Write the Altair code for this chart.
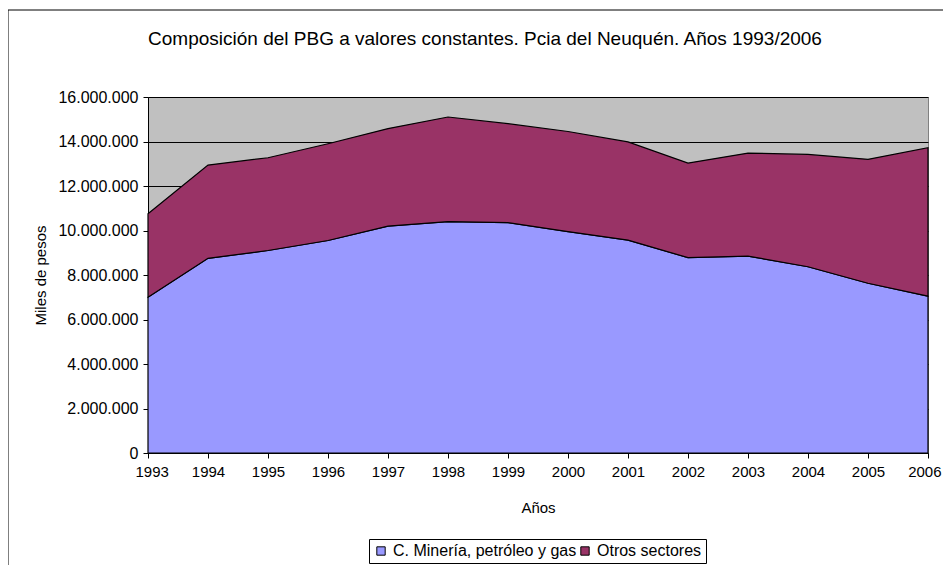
import altair as alt
import pandas as pd

years = [1993, 1994, 1995, 1996, 1997, 1998, 1999, 2000, 2001, 2002, 2003, 2004, 2005, 2006]
mineria = [7000000, 8750000, 9100000, 9550000, 10200000, 10400000, 10350000,
           9950000, 9570000, 8780000, 8850000, 8370000, 7630000, 7050000]
otros = [3750000, 4190000, 4170000, 4350000, 4380000, 4700000, 4450000,
         4500000, 4410000, 4250000, 4630000, 5050000, 5570000, 6670000]
series_names = ["C. Minería, petróleo y gas", "Otros sectores"]
series_colors = ["#9999FF", "#993366"]
y_ticks = [0, 2000000, 4000000, 6000000, 8000000, 10000000, 12000000, 14000000, 16000000]
title_text = "Composición del PBG a valores constantes. Pcia del Neuquén. Años 1993/2006"

rows = []
for i, y in enumerate(years):
    rows.append({"Año": y, "Serie": series_names[0], "Valor": mineria[i], "orden": 0})
    rows.append({"Año": y, "Serie": series_names[1], "Valor": otros[i], "orden": 1})
df = pd.DataFrame(rows)

W, H = 780, 356
FONT = "Liberation Sans"

axis_common = dict(
    labelFont=FONT, labelColor="black",
    titleFont=FONT, titleFontSize=15, titleColor="black", titleFontWeight="normal",
    domainColor="black", tickColor="black", tickSize=5, domainWidth=1, tickWidth=1,
)

area = alt.Chart(df).mark_area(stroke="black", strokeWidth=1.2, opacity=1).encode(
    x=alt.X("Año:Q",
            scale=alt.Scale(domain=[1993, 2006], nice=False, zero=False),
            axis=alt.Axis(values=years, format="d", title="Años", grid=False,
                          labelFontSize=15, labelPadding=6, titlePadding=21,
                          labelFlush=True, labelFlushOffset=13,
                          labelOverlap=False, **axis_common)),
    y=alt.Y("Valor:Q", stack="zero",
            scale=alt.Scale(domain=[0, 16000000], nice=False),
            axis=alt.Axis(values=y_ticks, title="Miles de pesos", grid=True,
                          gridColor="black", gridOpacity=1, gridWidth=1,
                          labelFontSize=16, labelPadding=5, titlePadding=9, labelFlush=False,
                          labelExpr="replace(format(datum.value, ','), regexp(',', 'g'), '.')",
                          **axis_common)),
    color=alt.Color("Serie:N",
                    scale=alt.Scale(domain=series_names, range=series_colors),
                    legend=alt.Legend(title=None, orient="none", direction="horizontal",
                                      legendX=221, legendY=442,
                                      strokeColor="black", fillColor="white",
                                      padding=4, symbolType="square", symbolSize=70,
                                      symbolStrokeColor="black", symbolStrokeWidth=1,
                                      labelFont=FONT, labelFontSize=16, labelColor="black",
                                      labelLimit=0, columnPadding=0, symbolOffset=0,
                                      labelOffset=4)),
    order=alt.Order("orden:Q"),
)

frame_df = pd.DataFrame({"k": [0]})
left_border = alt.Chart(frame_df).mark_rule(color="black", strokeWidth=1).encode(
    x=alt.value(-140), y=alt.value(-87), y2=alt.value(H + 112))
top_border = alt.Chart(frame_df).mark_rule(color="black", strokeWidth=1).encode(
    x=alt.value(-140), x2=alt.value(W + 15), y=alt.value(-87))
title_mark = alt.Chart(pd.DataFrame({"t": [title_text]})).mark_text(
    font=FONT, fontSize=19, color="black", align="center", baseline="alphabetic"
).encode(text="t:N", x=alt.value(337), y=alt.value(-52))

chart = alt.layer(area, left_border, top_border, title_mark).properties(
    width=W, height=H,
    autosize=alt.AutoSizeParams(type="none"),
    padding={"left": 140, "top": 89, "right": 15, "bottom": 112},
    background="white",
).configure_view(
    fill="#C0C0C0", stroke="#808080", strokeWidth=1
)

chart.save("out.html", embed_options={"renderer": "svg", "actions": False})
